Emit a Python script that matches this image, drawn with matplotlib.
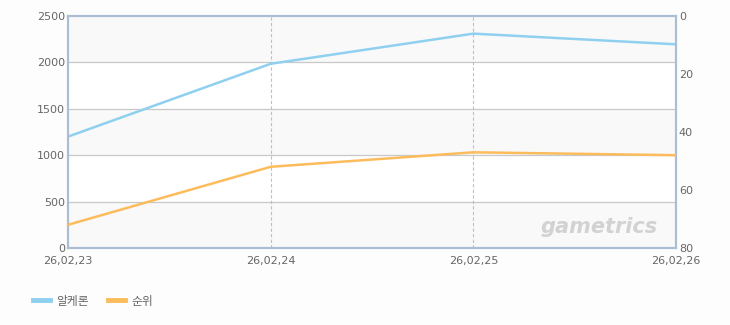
import numpy as np
import matplotlib
matplotlib.use('Agg')
import matplotlib.pyplot as plt
import matplotlib.lines as mlines

plt.rcParams['font.family'] = ['DejaVu Sans', 'Noto Sans CJK KR']

# data
dates = ['26,02,23', '26,02,24', '26,02,25', '26,02,26']
users = [1200, 1985, 2310, 2195]   # 알케론 (left axis)
rank = [72, 52, 47, 48]            # 순위 (right axis, inverted)

blue = '#8fd0f0'
orange = '#fcbc5c'
tick_c = '#666666'
spine_c = '#aabdd2'

fig = plt.figure(figsize=(7.3, 3.25), dpi=100)
fig.patch.set_facecolor('#fdfdfd')
ax = fig.add_axes([68/730, 1-248/325, (676-68)/730, (248-16)/325])
ax.set_facecolor('white')

x = np.arange(len(dates))

# alternating bands
for i, lo in enumerate(range(0, 2500, 500)):
    if i % 2 == 0:
        ax.axhspan(lo, lo+500, color='#f9f9f9', zorder=0, lw=0)
for yv in range(500, 2500, 500):
    ax.axhline(yv, color='#c8c8c8', lw=0.9, zorder=1)
for xv in x[1:-1]:
    ax.axvline(xv, color='#c0c0c0', lw=0.8, ls=(0, (3, 2)), zorder=1)

ax.plot(x, users, color=blue, lw=1.8, zorder=3)
ax.set_xlim(0, len(dates)-1)
ax.set_ylim(0, 2500)
ax.set_yticks(range(0, 2501, 500))
ax.set_xticks(x)
ax.set_xticklabels(dates)

ax2 = ax.twinx()
ax2.plot(x, rank, color=orange, lw=1.8, zorder=3)
ax2.set_ylim(80, 0)
ax2.set_yticks(range(0, 81, 20))

for a in (ax, ax2):
    a.tick_params(length=0, labelsize=8, colors=tick_c, pad=2)
    for s in a.spines.values():
        s.set_color(spine_c)
        s.set_linewidth(1.5)
ax.tick_params(axis='x', pad=6)

# watermark
ax.text(0.97, 0.09, 'gametrics', transform=ax.transAxes, ha='right', va='center',
        fontsize=15, fontweight='bold', style='italic', color='#d2d2d2', zorder=2)

h1 = mlines.Line2D([], [], color=blue, lw=3.5, label='알케론')
h2 = mlines.Line2D([], [], color=orange, lw=3.5, label='순위')
fig.legend(handles=[h1, h2], loc='center left', bbox_to_anchor=(22/730, 1-301/325),
           ncol=2, frameon=False, handlelength=1.5, handletextpad=0.5, columnspacing=1.6,
           prop={'family': ['Noto Sans CJK KR', 'DejaVu Sans'], 'size': 8.5},
           labelcolor='#666666')

fig.savefig('out.png', dpi=100, facecolor=fig.get_facecolor())
